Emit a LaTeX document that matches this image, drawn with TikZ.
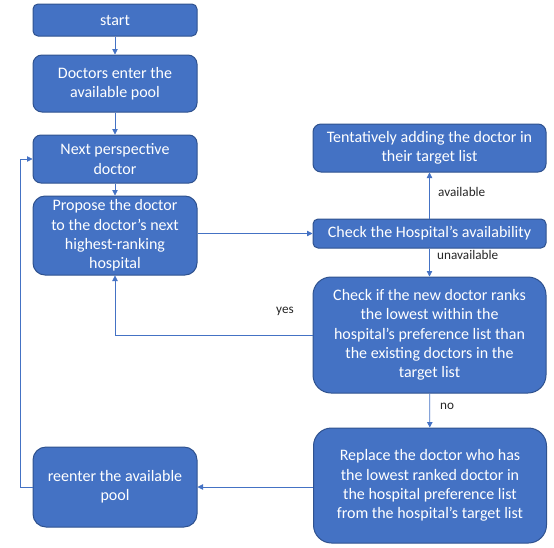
\documentclass[tikz,border=0pt]{standalone}
\usepackage{fontspec}
\setmainfont{Carlito}
\usetikzlibrary{arrows.meta}
\definecolor{boxfill}{HTML}{4472C4}
\definecolor{boxdraw}{HTML}{2F528F}
\definecolor{conn}{HTML}{4472C4}
\definecolor{lbltext}{HTML}{262626}
\tikzset{
  box/.style={draw=boxdraw, fill=boxfill, line width=1pt, text=white,
    align=center, inner sep=0pt, minimum width=164pt,
    font=\fontsize{16}{19.3}\selectfont},
  wbox/.style={box, minimum width=233pt},
  link/.style={draw=conn, line width=0.8pt, -{Triangle[length=5.5pt,width=5.5pt]}},
  lbl/.style={text=lbltext, font=\fontsize{13.2}{15}\selectfont, inner sep=0pt}
}
\begin{document}
\begin{tikzpicture}[x=1pt,y=-1pt]
\useasboundingbox (0,0) rectangle (554,547);
\node[box, minimum height=32pt, rounded corners=5pt] (start) at (115,20) {start};
\node[box, minimum height=57pt, rounded corners=9pt] (doctors) at (115,83.5) {Doctors enter the\\available pool};
\node[box, minimum height=48pt, rounded corners=8pt] (next) at (115,159) {Next perspective\\doctor};
\node[box, minimum height=79pt, rounded corners=12pt] (propose) at (115,235.5) {Propose the doctor\\to the doctor’s next\\highest-ranking\\hospital};
\node[wbox, minimum height=48pt, rounded corners=8pt] (tent) at (429.5,148) {Tentatively adding the doctor in\\their target list};
\node[wbox, minimum height=29pt, rounded corners=5pt] (chkH) at (429.5,233.5) {Check the Hospital’s availability};
\node[wbox, minimum height=116pt, rounded corners=18pt] (chkIf) at (429.5,335) {Check if the new doctor ranks\\the lowest within the\\hospital’s preference list than\\the existing doctors in the\\target list};
\node[wbox, minimum height=115pt, rounded corners=18pt] (replace) at (430,485.5) {Replace the doctor who has\\the lowest ranked doctor in\\the hospital preference list\\from the hospital’s target list};
\node[box, minimum height=80pt, rounded corners=13pt] (reenter) at (115,487) {reenter the available\\pool};

\draw[link] (start) -- (doctors);
\draw[link] (doctors) -- (next);
\draw[link] (next) -- (propose);
\draw[link] (propose.east |- chkH.west) -- (chkH.west);
\draw[link] (chkH) -- (tent);
\draw[link] (chkH) -- (chkIf);
\draw[link] (chkIf.west) -| (propose.south);
\draw[link] (chkIf) -- (replace);
\draw[link] (replace.west |- reenter.east) -- (reenter.east);
\draw[link] (reenter.west) -- ++(-12,0) |- (next.west);

\node[lbl, anchor=west] (lavail) at (438,192) {available};
\node[lbl, anchor=west] (lunav) at (437,255) {unavailable};
\node[lbl] (lyes) at (285,311) {yes};
\node[lbl, anchor=west] (lno) at (440,406) {no};
\end{tikzpicture}
\end{document}
